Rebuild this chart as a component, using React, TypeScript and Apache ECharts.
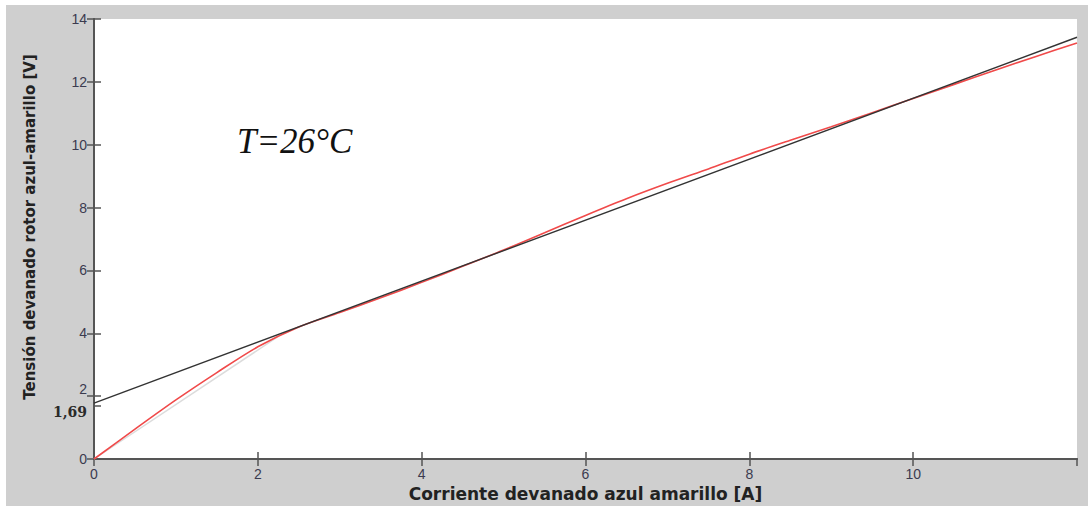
import React, { useEffect, useRef } from "react";
import * as echarts from "echarts";

const currentX: number[] = [0, 0.5, 1, 1.5, 2, 2.5, 3, 3.5, 4, 4.5, 5, 5.5, 6, 6.5, 7, 7.5, 8, 8.5, 9, 9.5, 10, 10.5, 11, 11.5, 12];
const measuredV: number[] = [0, 0.95, 1.88, 2.75, 3.57, 4.2, 4.66, 5.13, 5.62, 6.13, 6.65, 7.2, 7.75, 8.28, 8.77, 9.23, 9.7, 10.14, 10.57, 11.02, 11.47, 11.92, 12.37, 12.81, 13.24];
const fitX: number[] = [0, 12];
const fitV: number[] = [1.78, 13.42];
const initFitX: number[] = [0, 2.25];
const initFitV: number[] = [0, 3.9];
const yTickValues: number[] = [0, 1.69, 2, 4, 6, 8, 10, 12, 14];
const interceptLabel = "1,69";
const annotation = "T=26°C";
const xName = "Corriente devanado azul amarillo [A]";
const yName = "Tensión devanado rotor azul-amarillo [V]";

const pairs = (xs: number[], ys: number[]) => xs.map((x, i) => [x, ys[i]]);

export default function App() {
  const ref = useRef<HTMLDivElement>(null);
  useEffect(() => {
    document.body.style.margin = "0";
    if (!ref.current) return;
    const chart = echarts.init(ref.current, null, { renderer: "svg" });
    const axisLineStyle = { color: "#555", width: 2 };
    const labelColor = "#3b3b4f";
    chart.setOption({
      animation: false,
      backgroundColor: "transparent",
      grid: { left: 88, top: 14, right: 11, bottom: 47, show: true, backgroundColor: "#fff", borderWidth: 0, outerBoundsMode: "none", containLabel: false },
      xAxis: [
        {
          type: "value", min: 0, max: 12, interval: 2, position: "bottom",
          axisLine: { show: true, lineStyle: axisLineStyle },
          axisTick: { show: true, inside: true, length: 7, lineStyle: { color: "#555", width: 1.5 } },
          axisLabel: { color: labelColor, fontSize: 14, fontFamily: "Liberation Sans", margin: 8, showMaxLabel: false },
          splitLine: { show: false },
          name: xName, nameLocation: "middle", nameGap: 26,
          nameTextStyle: { color: "#222", fontSize: 17, fontWeight: "bold", fontFamily: "DejaVu Sans" },
        },
        {
          type: "value", min: 0, max: 12, interval: 2, position: "top",
          axisLine: { show: true, lineStyle: axisLineStyle },
          axisTick: { show: true, inside: true, length: 7, lineStyle: { color: "#555", width: 1.5 } },
          axisLabel: { show: false }, splitLine: { show: false },
        },
      ],
      yAxis: [
        {
          type: "value", min: 0, max: 14, position: "left",
          axisLine: { show: true, lineStyle: axisLineStyle },
          axisTick: { show: true, inside: true, length: 7, customValues: yTickValues, lineStyle: { color: "#555", width: 1.5 } },
          axisLabel: {
            color: labelColor, fontSize: 14, fontFamily: "Liberation Sans", margin: 7,
            customValues: yTickValues, hideOverlap: false,
            formatter: (v: number) => (v === 1.69 ? "{b|" + interceptLabel + "}" : v === 2 ? "{u|2}" : "{n|" + v + "}"),
            rich: {
              n: { color: labelColor, fontSize: 14, fontFamily: "Liberation Sans" },
              u: { color: labelColor, fontSize: 14, fontFamily: "Liberation Sans", padding: [0, 0, 14, 0] },
              b: { color: "#2a2a2a", fontSize: 14, fontWeight: "bold", fontFamily: "DejaVu Serif", padding: [12, 0, 0, 0] },
            },
          },
          splitLine: { show: false },
        },
        {
          type: "value", min: 0, max: 14, interval: 2, position: "right",
          axisLine: { show: true, lineStyle: axisLineStyle },
          axisTick: { show: true, inside: true, length: 7, lineStyle: { color: "#555", width: 1.5 } },
          axisLabel: { show: false }, splitLine: { show: false },
        },
      ],
      series: [
        {
          type: "line", data: pairs(initFitX, initFitV), showSymbol: false, silent: true,
          lineStyle: { color: "#dcdcdc", width: 1.5 }, z: 1,
        },
        {
          type: "line", data: pairs(currentX, measuredV), showSymbol: false, smooth: 0.3,
          lineStyle: { color: "#f04a4a", width: 1.6 }, z: 2,
        },
        {
          type: "line", data: pairs(fitX, fitV), showSymbol: false,
          lineStyle: { color: "#333", width: 1.4 }, z: 3,
        },
      ],
      graphic: [
        {
          type: "text", x: 231, y: 136,
          style: { text: annotation, fontSize: 35, fontStyle: "italic", fontFamily: "Liberation Serif", fill: "#111", textVerticalAlign: "middle" },
        },
        {
          type: "text", x: 24, y: 222, rotation: Math.PI / 2,
          style: { text: yName, fontSize: 15, fontWeight: "bold", fontFamily: "DejaVu Sans", fill: "#222", textAlign: "center", textVerticalAlign: "middle" },
        },
      ],
    });
    return () => chart.dispose();
  }, []);
  return (
    <div style={{ width: 1088, height: 506, background: "#fff", position: "relative" }}>
      <div ref={ref} style={{ position: "absolute", left: 6, top: 5, width: 1082, height: 501, background: "#cfcfcf" }} />
    </div>
  );
}
